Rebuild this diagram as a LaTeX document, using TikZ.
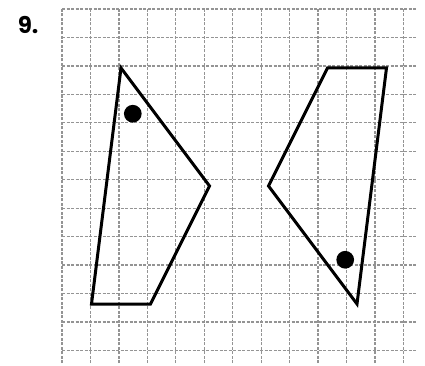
\documentclass[tikz,border=0pt]{standalone}
\usepackage{fontspec}
\newfontfamily\labfont{Poppins}
\begin{document}
\begin{tikzpicture}[x=29.5pt,y=-29.5pt,
  gridline/.style={draw=black!42,line width=1.3pt,dash pattern=on 3pt off 1.5pt},
  quadline/.style={draw=black,line width=3pt,line join=miter},
  dotmark/.style={fill=black}]
\useasboundingbox (-2.1017,-0.305) rectangle (12.305,12.068);
\draw[gridline] (0,0) grid (12,12);
\node[font=\labfont\bfseries\fontsize{23}{25}\selectfont,inner sep=0pt] (lab) at (-1.15,0.55) {9.};
% left quadrilateral
\coordinate (a1) at (2,2);
\coordinate (a2) at (5,6);
\coordinate (a3) at (3,10);
\coordinate (a4) at (1,10);
\draw[quadline] (a1) -- (a2) -- (a3) -- (a4) -- cycle;
\fill[dotmark] (2.4,3.55) circle (0.3);
% right quadrilateral
\coordinate (b1) at (9,2);
\coordinate (b2) at (11,2);
\coordinate (b3) at (10,10);
\coordinate (b4) at (7,6);
\draw[quadline] (b1) -- (b2) -- (b3) -- (b4) -- cycle;
\fill[dotmark] (9.6,8.5) circle (0.3);
\end{tikzpicture}
\end{document}
